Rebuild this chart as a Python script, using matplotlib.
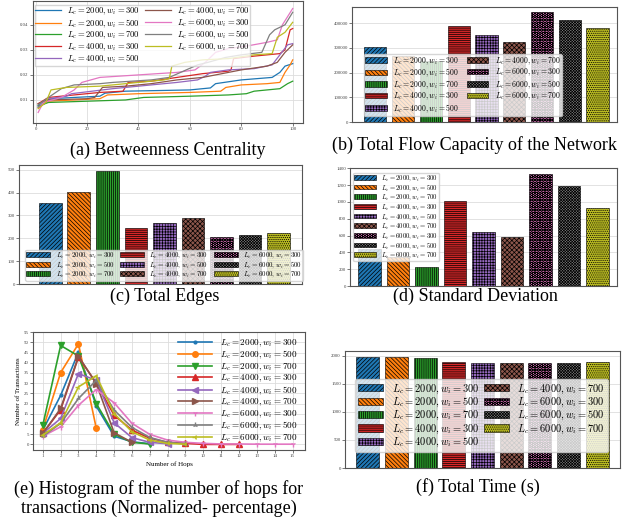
import matplotlib
matplotlib.use('Agg')
import matplotlib.pyplot as plt

plt.rcParams['mathtext.fontset'] = 'cm'
plt.rcParams['font.family'] = ['Liberation Serif', 'DejaVu Serif']
plt.rcParams['hatch.linewidth'] = 0.5

W, H = 633, 523

labels = [r'$L_c=2000,w_i=300$', r'$L_c=2000,w_i=500$', r'$L_c=2000,w_i=700$',
          r'$L_c=4000,w_i=300$', r'$L_c=4000,w_i=500$', r'$L_c=4000,w_i=700$',
          r'$L_c=6000,w_i=300$', r'$L_c=6000,w_i=500$', r'$L_c=6000,w_i=700$']
colors = ['#1f77b4', '#ff7f0e', '#2ca02c', '#d62728', '#9467bd',
          '#8c564b', '#e377c2', '#7f7f7f', '#bcbd22']
hatches = ['////////', '\\\\\\\\\\\\\\\\', '||||||||', '--------', '++++++',
           'xxxxxxx', 'OOOOO', 'xxxxxxxxxxxx', '........']
markers = ['.', 'o', 'v', '^', '<', '>', '1', '2', '3']

# (a) betweenness centrality, sorted, read at break points
bc_2000_300 = [(1, .0078), (3, .0095), (6, .0105), (15, .011), (25, .0115), (27, .0127), (35, .0135),
               (60, .014), (68, .0148), (70, .0165), (80, .018), (92, .019), (95, .021), (97, .0235), (100, .0245)]
bc_2000_500 = [(1, .007), (5, .0095), (25, .0105), (28, .012), (40, .0125), (60, .013), (72, .0135),
               (74, .015), (80, .016), (90, .0165), (95, .017), (97, .021), (99, .024), (100, .026)]
bc_2000_700 = [(1, .0075), (5, .009), (20, .0095), (35, .01), (42, .011), (60, .0115), (75, .012),
               (82, .0125), (85, .0135), (90, .014), (95, .0145), (98, .0165), (100, .0175)]
bc_4000_300 = [(1, .0085), (5, .011), (15, .012), (25, .013), (34, .0135), (36, .017), (45, .0175),
               (55, .019), (65, .0205), (75, .0215), (76, .022), (77, .0265), (85, .0275), (95, .0285),
               (97, .03), (99, .038), (100, .0385)]
bc_4000_500 = [(1, .007), (5, .0105), (12, .0115), (14, .0125), (22, .0135), (30, .0145), (45, .016),
               (55, .017), (63, .018), (66, .0195), (68, .021), (75, .022), (85, .0225), (92, .024),
               (95, .028), (98, .032), (100, .0325)]
bc_4000_700 = [(1, .0085), (5, .01), (20, .0105), (23, .011), (26, .015), (35, .0155), (45, .0165),
               (55, .018), (65, .019), (75, .021), (80, .022), (90, .0235), (94, .025), (97, .029), (100, .032)]
bc_6000_300 = [(1, .005), (3, .009), (10, .011), (15, .014), (18, .017), (25, .019), (40, .02),
               (55, .021), (62, .022), (66, .025), (70, .029), (75, .0305), (82, .0315), (90, .033),
               (94, .034), (96, .04), (100, .0465)]
bc_6000_500 = [(1, .008), (5, .011), (10, .0145), (15, .016), (25, .0165), (30, .017), (45, .018),
               (52, .019), (63, .024), (67, .025), (74, .027), (80, .028), (88, .029), (91, .036),
               (93, .038), (97, .04), (100, .045)]
bc_6000_700 = [(1, .0065), (4, .009), (6, .014), (12, .015), (25, .0155), (35, .0165), (50, .018),
               (52, .0185), (53, .0235), (58, .025), (65, .026), (75, .0265), (85, .028), (92, .0285),
               (94, .035), (97, .037), (100, .041)]
bc_series = [bc_2000_300, bc_2000_500, bc_2000_700, bc_4000_300, bc_4000_500,
             bc_4000_700, bc_6000_300, bc_6000_500, bc_6000_700]

# (b), (c), (d), (f) bar values
flow_capacity = [303000, 265000, 245000, 386500, 353000, 322000, 443000, 411000, 378500]
total_edges = [356, 401, 496, 246, 265, 290, 207, 216, 224]
std_dev = [436, 349, 230, 1011, 646, 583, 1337, 1194, 924]
total_time = [1988, 1988, 1958, 1887, 1870, 1870, 1870, 1868, 1899]

# (e) hop histogram (percent)
hops_2000_300 = [7, 24, 45.3, 18.7, 4, 1.3, 0.3]
hops_2000_500 = [7.3, 35.2, 49.3, 7.8]
hops_2000_700 = [9.4, 48.5, 43.3, 20, 5, 1, 0.2]
hops_4000_300 = [5.4, 17, 42.8, 30, 14.3, 7, 3, 1, 0.5, 0, 0, 0]
hops_4000_500 = [5.4, 12.7, 34.7, 31.4, 10.6, 3.3, 1, 0.3]
hops_4000_700 = [5.4, 17.6, 43.2, 29.8, 5.7, 1]
hops_6000_300 = [4, 8.6, 19.2, 26.9, 20.4, 10.3, 4.9, 2.1, 1, 0.5, 0.2, 0.2, 0.1, 0.1, 0.1]
hops_6000_500 = [4, 10.3, 22.5, 31.4, 16.8, 8.3, 3.4, 1, 0.3]
hops_6000_700 = [4.6, 10.6, 28.2, 33.6, 15.1, 6.2, 2.1, 0.5, 0.1]
hop_series = [hops_2000_300, hops_2000_500, hops_2000_700, hops_4000_300, hops_4000_500,
              hops_4000_700, hops_6000_300, hops_6000_500, hops_6000_700]


def box(l, t, r, b):
    return [l / W, 1 - b / H, (r - l) / W, (b - t) / H]


def style(ax, grid_x=False):
    for s in ax.spines.values():
        s.set_color('#555555')
        s.set_linewidth(0.8)
    ax.tick_params(labelsize=3.5, length=2, width=0.5, colors='#444444', pad=1)
    ax.set_axisbelow(True)
    ax.grid(axis='y', color='#dddddd', linewidth=0.6)
    if grid_x:
        ax.grid(axis='x', color='#dddddd', linewidth=0.6)


def bars(ax, vals):
    for i, v in enumerate(vals):
        ax.bar(i, v, 0.8, color=colors[i], edgecolor='black', linewidth=0.4,
               hatch=hatches[i], label=labels[i])
    ax.set_xticks([])


fig = plt.figure(figsize=(W / 100, H / 100), dpi=100)

# (a)
ax = fig.add_axes(box(33, 1, 303, 123))
for i, s in enumerate(bc_series):
    ax.plot([p[0] for p in s], [p[1] for p in s], color=colors[i], lw=0.9, label=labels[i])
ax.set_xlim(-1, 104)
ax.set_ylim(0.0008, 0.0495)
ax.set_xticks([0, 20, 40, 60, 80, 100])
ax.set_yticks([0.01, 0.02, 0.03, 0.04])
style(ax, grid_x=True)
ax.legend(loc='upper left', bbox_to_anchor=(-0.01, 1.0), ncol=2, fontsize=6.2, handlelength=3.0,
          columnspacing=0.6, labelspacing=0.0, borderpad=0.05, handletextpad=0.7,
          edgecolor='#cccccc', fancybox=False)

# (b)
ax = fig.add_axes(box(352, 7, 617, 122))
bars(ax, flow_capacity)
ax.set_xlim(-0.84, 8.7)
ax.set_yticks([0, 100000, 200000, 300000, 400000])
style(ax)
ax.legend(loc='lower left', bbox_to_anchor=(0.03, 0.02), ncol=2, fontsize=5.6, handlelength=2.8,
          columnspacing=1.0, labelspacing=0.0, borderpad=0.15, handletextpad=0.8)

# (c)
ax = fig.add_axes(box(19, 165, 302, 284))
bars(ax, total_edges)
ax.set_xlim(-1.1, 8.82)
ax.set_yticks([0, 100, 200, 300, 400, 500])
style(ax)
ax.legend(loc='lower left', bbox_to_anchor=(0.01, 0.0), ncol=3, fontsize=5.0, handlelength=3.4,
          columnspacing=0.8, labelspacing=0.0, borderpad=0.15, handletextpad=0.8)

# (d)
ax = fig.add_axes(box(350, 168, 617, 286))
bars(ax, std_dev)
ax.set_xlim(-0.68, 8.68)
ax.set_yticks(range(0, 1401, 200))
style(ax)
ax.legend(loc='upper left', bbox_to_anchor=(0.0, 0.99), ncol=1, fontsize=4.8, handlelength=3.2,
          labelspacing=0.0, borderpad=0.15, handletextpad=0.8)

# (e)
ax = fig.add_axes(box(33, 332, 305, 450))
for i, s in enumerate(hop_series):
    ax.plot(range(1, len(s) + 1), s, color=colors[i], marker=markers[i], ms=4, lw=1.2, label=labels[i])
ax.set_xlim(0.45, 15.7)
ax.set_ylim(-2.75, 55.1)
ax.set_xticks(range(1, 16))
ax.set_yticks(range(0, 56, 5))
style(ax, grid_x=True)
ax.set_xlabel('Number of Hops', fontsize=5, labelpad=2)
ax.set_ylabel('Number of Transactions', fontsize=5, labelpad=2)
ax.legend(loc='upper right', bbox_to_anchor=(0.99, 1.0), ncol=1, fontsize=6.6, handlelength=3.8,
          labelspacing=0.0, borderpad=0.05, handletextpad=0.8, frameon=False)

# (f)
ax = fig.add_axes(box(345, 351, 620, 468))
bars(ax, total_time)
ax.set_xlim(-0.8, 8.8)
ax.set_yticks([0, 500, 1000, 1500, 2000])
style(ax)
ax.legend(loc='lower right', bbox_to_anchor=(0.975, 0.09), ncol=2, fontsize=7.5, handlelength=2.4,
          columnspacing=0.4, labelspacing=0.0, borderpad=0.3, handletextpad=0.8)

cap = dict(ha='center', va='center', fontsize=13)
fig.text(168 / W, 1 - 150 / H, '(a) Betweenness Centrality', **cap)
fig.text(475 / W, 1 - 145 / H, '(b) Total Flow Capacity of the Network', **cap)
fig.text(165 / W, 1 - 296 / H, '(c) Total Edges', **cap)
fig.text(475 / W, 1 - 296 / H, '(d) Standard Deviation', **cap)
fig.text(159 / W, 1 - 489 / H, '(e) Histogram of the number of hops for', **cap)
fig.text(159 / W, 1 - 508 / H, 'transactions (Normalized- percentage)', **cap)
fig.text(478 / W, 1 - 487 / H, '(f) Total Time (s)', **cap)

fig.savefig('out.png', dpi=100)
